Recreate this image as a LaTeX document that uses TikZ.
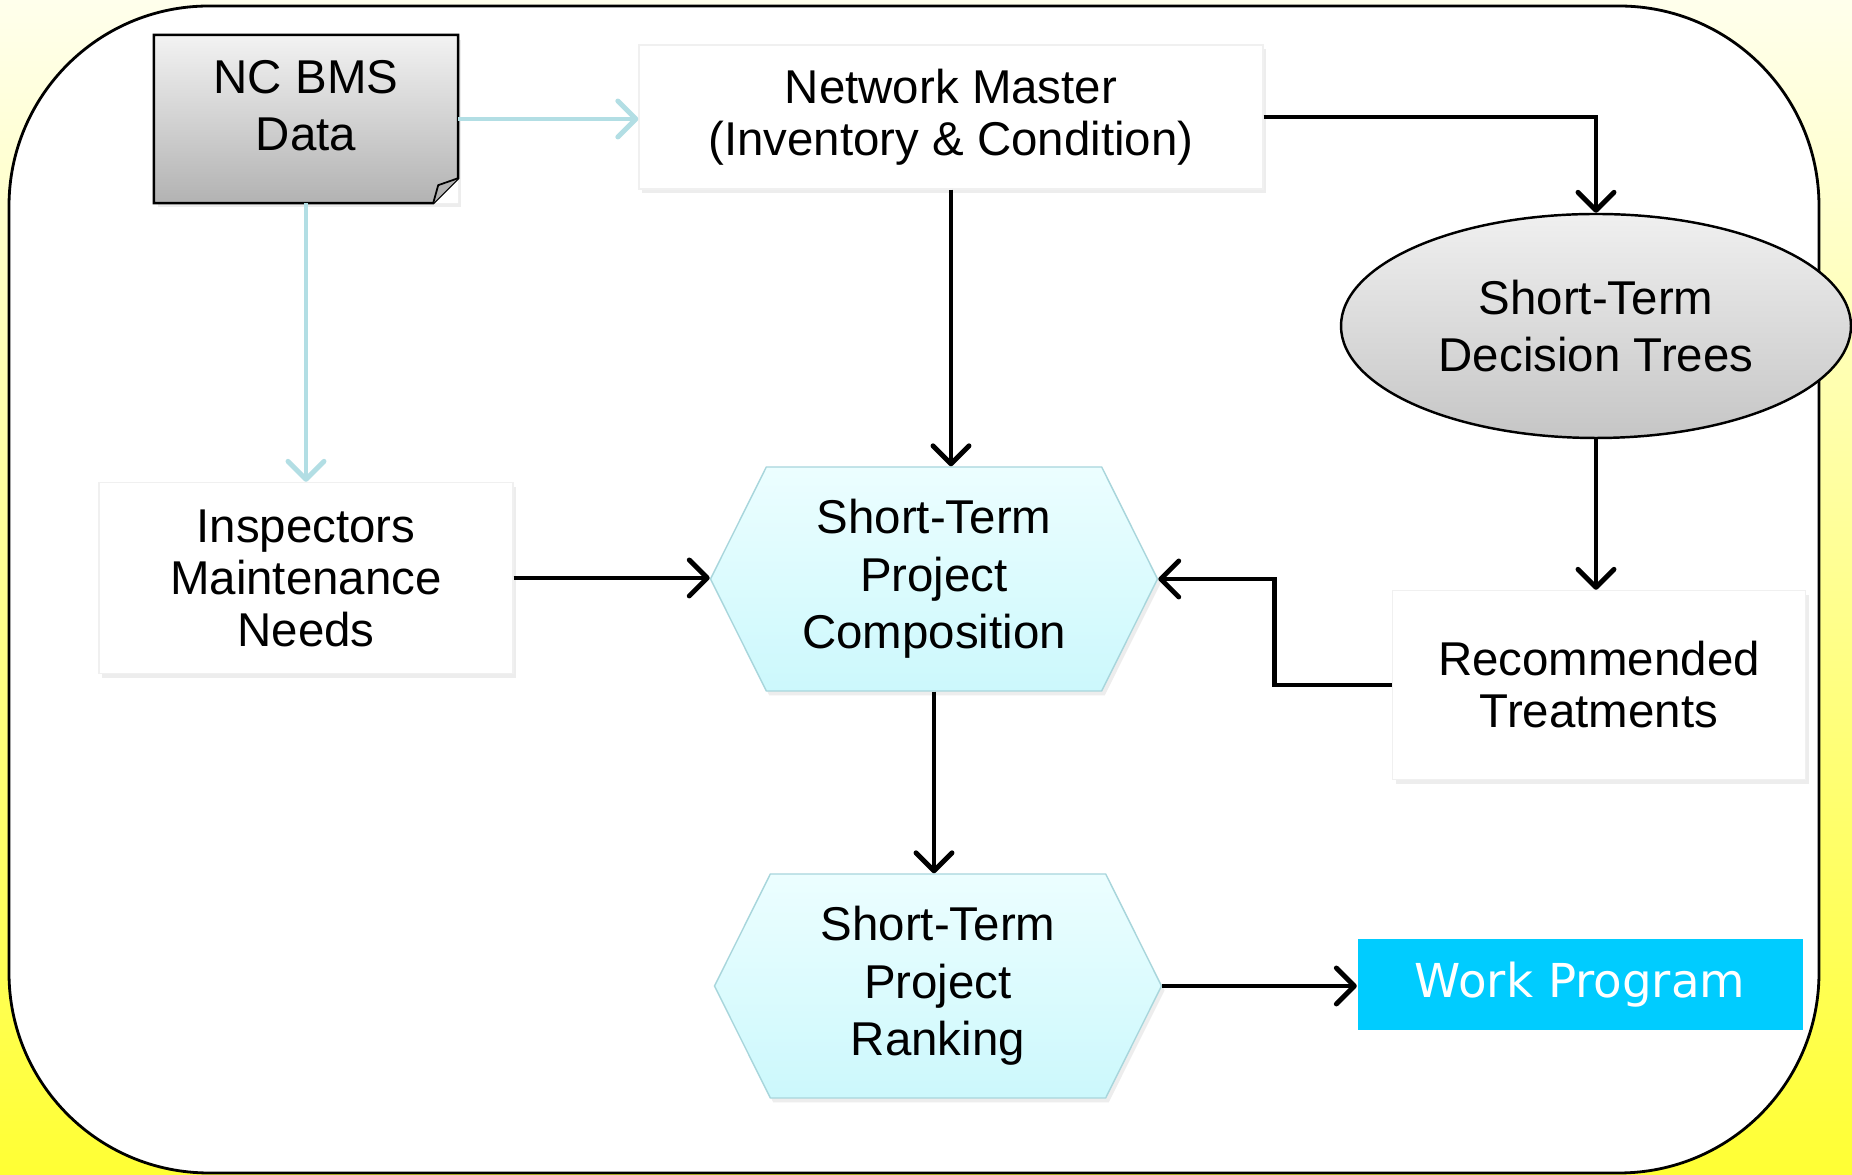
\documentclass[tikz,border=0pt]{standalone}
\usepackage{fontspec}
\setmainfont{Liberation Sans}
\newfontfamily\workfont{DejaVu Sans}
\usetikzlibrary{shapes.geometric,shapes.symbols,shadows,arrows.meta}
\definecolor{paleteal}{RGB}{178,222,228}
\definecolor{hexline}{RGB}{168,214,220}
\definecolor{hextop}{RGB}{236,254,255}
\definecolor{hexbot}{RGB}{204,248,252}
\definecolor{skyblue}{RGB}{0,204,255}
\definecolor{creamtop}{RGB}{255,255,236}
\definecolor{yellowbot}{RGB}{255,255,52}
\begin{document}
\begin{tikzpicture}[every node/.style={align=center, inner sep=0pt, font=\fontsize{13.5}{16.3}\selectfont},
	softshadow/.style={drop shadow={opacity=0.14, shadow xshift=0.3mm, shadow yshift=-0.45mm}},
	whitebox/.style={rectangle, fill=white, draw=gray!12, softshadow, font=\fontsize{13.5}{14.8}\selectfont},
	databox/.style={rectangle, top color=gray!10, bottom color=gray!60, softshadow, minimum width=3.03cm, minimum height=1.67cm},
	hexa/.style={signal, signal to=west and east, signal pointer angle=127, draw=hexline, thin, top color=hextop, bottom color=hexbot, softshadow, minimum width=4.47cm, minimum height=2.24cm},
	tree/.style={ellipse, draw=black, line width=0.7pt, top color=gray!12, bottom color=gray!45, minimum width=5.1cm, minimum height=2.24cm},
	flow/.style={draw=black, line width=1.4pt, -{Straight Barb[length=1.8mm,width=3.6mm,round]}},
	feed/.style={draw=paleteal, line width=1.4pt, -{Straight Barb[length=1.8mm,width=3.6mm,round]}}]
	\useasboundingbox (0,0) rectangle (18.52,11.75);
	\fill[top color=creamtop, bottom color=yellowbot] (0,0) rectangle (18.52,11.75);
	\draw[fill=white, line width=0.8pt, rounded corners=2cm] (0.09,0.02) rectangle (18.19,11.69);
	
	\node[databox, label={[yshift=0.13cm]center:{NC BMS\\Data}}] (data) at (3.06,10.56) {};
	\node[whitebox, minimum width=6.24cm, minimum height=1.44cm] (master) at (9.51,10.58) {Network Master\\(Inventory \& Condition)};
	\node[tree] (trees) at (15.96,8.49) {Short-Term\\Decision Trees};
	\node[whitebox, minimum width=4.14cm, minimum height=1.91cm] (needs) at (3.06,5.97) {Inspectors\\Maintenance\\Needs};
	\node[hexa] (compose) at (9.34,5.96) {Short-Term\\Project\\Composition};
	\node[whitebox, minimum width=4.13cm, minimum height=1.89cm] (treat) at (15.99,4.90) {Recommended\\Treatments};
	\node[hexa] (rank) at (9.38,1.89) {Short-Term\\Project\\Ranking};
	\node[rectangle, fill=skyblue, text=white, minimum width=4.45cm, minimum height=0.91cm, font=\workfont\fontsize{13.3}{16}\selectfont] (work) at (15.80,1.90) {Work Program};
	
	% folded corner of the data sheet
	\fill[white] ([xshift=-0.25cm]data.south east) -- (data.south east) -- ([yshift=0.25cm]data.south east) -- cycle;
	\draw[line width=0.7pt] (data.north west) -- (data.north east) -- ([yshift=0.25cm]data.south east) -- ([xshift=-0.25cm]data.south east) -- (data.south west) -- cycle;
	\draw[fill=gray!60, line width=0.5pt] ([yshift=0.25cm]data.south east) -- ([xshift=-0.2cm,yshift=0.18cm]data.south east) -- ([xshift=-0.25cm]data.south east);
	
	\draw[feed] (data.east) -- (data.east -| master.west);
	\draw[feed] (data.south) -- (needs.north);
	\draw[flow] (master.south) -- (master.south |- compose.north);
	\draw[flow] (master.east) -| (trees.north);
	\draw[flow] (trees.south) -- (trees.south |- treat.north);
	\draw[flow] (treat.west) -- ++(-1.17,0) |- (compose.east);
	\draw[flow] (needs.east) -- (needs.east -| compose.west);
	\draw[flow] (compose.south) -- (compose.south |- rank.north);
	\draw[flow] (rank.east) -- (rank.east -| work.west);
\end{tikzpicture}
\end{document}
